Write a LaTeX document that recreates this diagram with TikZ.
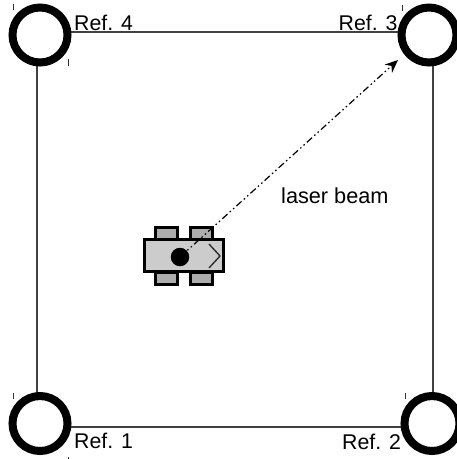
\documentclass[tikz,border=0pt]{standalone}
\usepackage{fontspec}
\setmainfont{Liberation Sans}
\usetikzlibrary{arrows.meta}
\tikzset{
  x=1pt,y=-1pt,
  wall/.style={draw=black!75,line width=1.2pt},
  refpost/.style={circle,draw=black,fill=white,line width=8pt,minimum size=55pt,inner sep=0pt,outer sep=0pt},
  reflabel/.style={font=\fontsize{21.3}{24}\selectfont,inner sep=0pt,anchor=base west},
  tick/.style={draw=black!80,line width=0.8pt},
  wheel/.style={draw=black,fill=black!32,line width=3pt,minimum width=22pt,minimum height=12pt,inner sep=0pt},
  chassis/.style={draw=black,fill=black!20,line width=3pt,minimum width=79pt,minimum height=32pt,inner sep=0pt},
  beam/.style={draw=black,line width=1.2pt,dash pattern=on 7pt off 3pt on 1.5pt off 3pt on 1.5pt off 3pt,-{Stealth[length=13pt,width=11pt]}}
}
\begin{document}
\begin{tikzpicture}
\useasboundingbox (0,0) rectangle (457,459);
\begin{scope}
\clip (0,0) rectangle (457,459);
\coordinate (c4) at (37,32);
\coordinate (c3) at (433,32);
\coordinate (c2) at (433,427);
\coordinate (c1) at (37,427);
\draw[wall] (c1) -- (c2) -- (c3) -- (c4) -- cycle;
\node[refpost] (r4) at (40,35) {};
\node[refpost] (r3) at (429,35) {};
\node[refpost] (r1) at (40,423.5) {};
\node[refpost] (r2) at (432,423.5) {};
\draw[tick] (13,4) -- (13,10);
\draw[tick] (68,59) -- (68,66);
\draw[tick] (402,5) -- (402,11);
\draw[tick] (13,393) -- (13,399);
\draw[tick] (68,457) -- (68,459);
\draw[tick] (405,393) -- (405,399);
\end{scope}
\node[reflabel] (l4) at (74,30) {Ref. 4};
\node[reflabel] (l3) at (338.5,30) {Ref. 3};
\node[reflabel] (l1) at (74,448) {Ref. 1};
\node[reflabel,font=\fontsize{21.3}{24}\selectfont] (l2) at (342,449) {Ref. 2};
\node[reflabel,font=\fontsize{21.7}{24}\selectfont] (lb) at (281,203) {laser beam};
\node[wheel] (w1) at (166,233) {};
\node[wheel] (w2) at (201,233) {};
\node[wheel] (w3) at (166,278) {};
\node[wheel] (w4) at (201,278) {};
\node[chassis] (body) at (183.5,255.5) {};
\draw[line width=1.3pt,draw=black!85] (209,244) -- (220,256) -- (209,268);
\node[circle,fill=black,minimum size=18.5pt,inner sep=0pt] (disc) at (180,257) {};
\coordinate (aim) at (398,60);
\draw[beam] (disc.center) -- (aim);
\end{tikzpicture}
\end{document}
